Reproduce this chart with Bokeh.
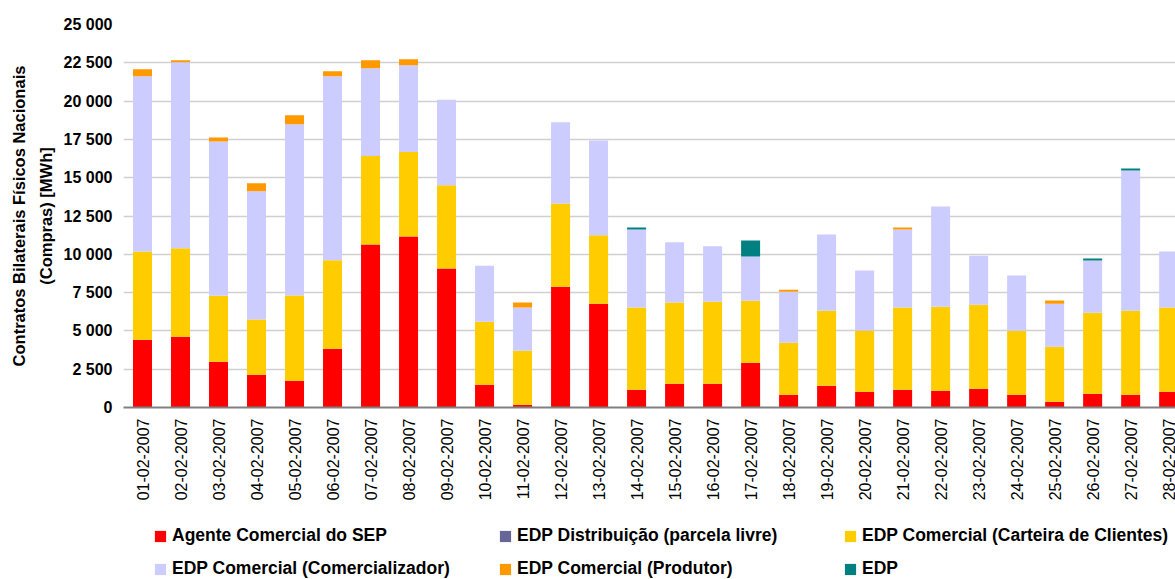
import math
from bokeh.plotting import figure
from bokeh.layouts import column
from bokeh.models import ColumnDataSource, Range1d, FixedTicker, Legend, LegendItem
from bokeh.embed import file_html
from bokeh.resources import INLINE

# ---- data ----
dates = ["01-02-2007", "02-02-2007", "03-02-2007", "04-02-2007", "05-02-2007", "06-02-2007",
         "07-02-2007", "08-02-2007", "09-02-2007", "10-02-2007", "11-02-2007", "12-02-2007",
         "13-02-2007", "14-02-2007", "15-02-2007", "16-02-2007", "17-02-2007", "18-02-2007",
         "19-02-2007", "20-02-2007", "21-02-2007", "22-02-2007", "23-02-2007", "24-02-2007",
         "25-02-2007", "26-02-2007", "27-02-2007", "28-02-2007"]
agente_sep = [4430, 4620, 2990, 2140, 1750, 3840, 10640, 11160, 9070, 1480, 180, 7890, 6780, 1160,
              1550, 1550, 2920, 830, 1420, 1030, 1160, 1090, 1220, 830, 370, 900, 830, 1030]
edp_distribuicao = [0, 0, 0, 0, 0, 0, 0, 0, 0, 0, 0, 0, 0, 0,
                    0, 0, 0, 0, 0, 0, 0, 0, 0, 0, 0, 0, 0, 0]
edp_carteira = [5750, 5775, 4310, 3600, 5560, 5770, 5770, 5510, 5430, 4120, 3530, 5430, 4460, 5360,
                5300, 5360, 4050, 3400, 4900, 3990, 5360, 5490, 5490, 4180, 3600, 5290, 5490, 5490]
edp_comercializador = [11440, 12140, 10070, 8370, 11180, 12010, 5730, 5670, 5590, 3660, 2810, 5300, 6190, 5100,
                       3940, 3620, 2880, 3330, 4970, 3920, 5100, 6540, 3200, 3600, 2810, 3400, 9150, 3660]
edp_produtor = [460, 130, 260, 520, 590, 330, 520, 390, 0, 0, 330, 0, 0, 0,
                0, 0, 0, 130, 0, 0, 130, 0, 0, 0, 200, 0, 0, 0]
edp = [0, 0, 0, 0, 0, 0, 0, 0, 0, 0, 0, 0, 0, 130,
       0, 0, 1050, 0, 0, 0, 0, 0, 0, 0, 0, 130, 130, 0]

series_names = ["Agente Comercial do SEP", "EDP Distribuição (parcela livre)",
                "EDP Comercial (Carteira de Clientes)", "EDP Comercial (Comercializador)",
                "EDP Comercial (Produtor)", "EDP"]
colors = ["#FF0000", "#666699", "#FFCC00", "#CCCCFF", "#FF9900", "#008080"]
y_ticks = [0, 2500, 5000, 7500, 10000, 12500, 15000, 17500, 20000, 22500, 25000]
y_label = "Contratos Bilaterais Físicos Nacionais\n(Compras) [MWh]"

# ---- main figure ----
FONT = "Liberation Sans"
keys = ["s0", "s1", "s2", "s3", "s4", "s5"]
xs = list(range(len(dates)))
source = ColumnDataSource(dict(x=xs, s0=agente_sep, s1=edp_distribuicao, s2=edp_carteira,
                               s3=edp_comercializador, s4=edp_produtor, s5=edp))

p = figure(width=1175, height=508, output_backend="svg", toolbar_location=None,
           x_range=Range1d(-0.5, 27.18), y_range=Range1d(0, 25000),
           min_border_left=123, min_border_right=0, min_border_top=24, min_border_bottom=101)
p.outline_line_color = None
p.background_fill_color = "white"
p.border_fill_color = "white"

p.vbar_stack(keys, x="x", width=0.5, source=source, color=colors, line_color=None)

p.xgrid.grid_line_color = None
p.ygrid.grid_line_color = "#d0d0d0"
p.ygrid.grid_line_width = 1.5
p.ygrid.ticker = FixedTicker(ticks=y_ticks)

yax = p.yaxis[0]
yax.ticker = FixedTicker(ticks=y_ticks)
yax.major_label_overrides = {t: f"{t:,}".replace(",", " ") for t in y_ticks}
yax.axis_line_color = None
yax.major_tick_line_color = None
yax.minor_tick_line_color = None
yax.major_tick_out = 0
yax.major_tick_in = 0
yax.major_label_standoff = 11
yax.major_label_text_font = FONT
yax.major_label_text_font_style = "bold"
yax.major_label_text_font_size = "16px"
yax.major_label_text_color = "black"
yax.axis_label = y_label
yax.axis_label_text_font = FONT
yax.axis_label_text_font_style = "bold"
yax.axis_label_text_font_size = "16.5px"
yax.axis_label_text_line_height = 1.45
yax.axis_label_text_color = "black"
yax.axis_label_standoff = 6

xax = p.xaxis[0]
xax.ticker = FixedTicker(ticks=xs)
xax.major_label_overrides = {i: d for i, d in zip(xs, dates)}
xax.major_label_orientation = math.pi / 2
xax.axis_line_color = "#808080"
xax.axis_line_width = 2
xax.major_tick_line_color = None
xax.minor_tick_line_color = None
xax.major_tick_out = 0
xax.major_tick_in = 0
xax.major_label_standoff = 11
xax.major_label_text_font = FONT
xax.major_label_text_font_size = "16px"
xax.major_label_text_color = "black"

# ---- legend strip (same series, kept below the visible range so only the legend shows) ----
lg = figure(width=1175, height=71, output_backend="svg", toolbar_location=None,
            x_range=Range1d(-0.5, 27.18), y_range=Range1d(30000, 60000),
            min_border_left=0, min_border_right=0, min_border_top=0, min_border_bottom=0)
lg.axis.visible = False
lg.grid.visible = False
lg.outline_line_color = None
lg.border_fill_color = "white"
lg.background_fill_color = "white"
lg_renderers = lg.vbar_stack(keys, x="x", width=0.5, source=source, color=colors, line_color=None)
items = [LegendItem(label=n, renderers=[r]) for n, r in zip(series_names, lg_renderers)]
legend = Legend(items=items, location=(30, 0), orientation="horizontal", ncols=3,
                glyph_width=14, glyph_height=14, label_standoff=5, label_width=314,
                label_height=18, spacing=12, padding=0, margin=0,
                border_line_color=None, background_fill_alpha=0,
                label_text_font=FONT, label_text_font_style="bold",
                label_text_font_size="17.5px", label_text_color="black")
lg.add_layout(legend, "center")

layout = column(p, lg, spacing=0)
open("out.html", "w").write(file_html(layout, INLINE))
